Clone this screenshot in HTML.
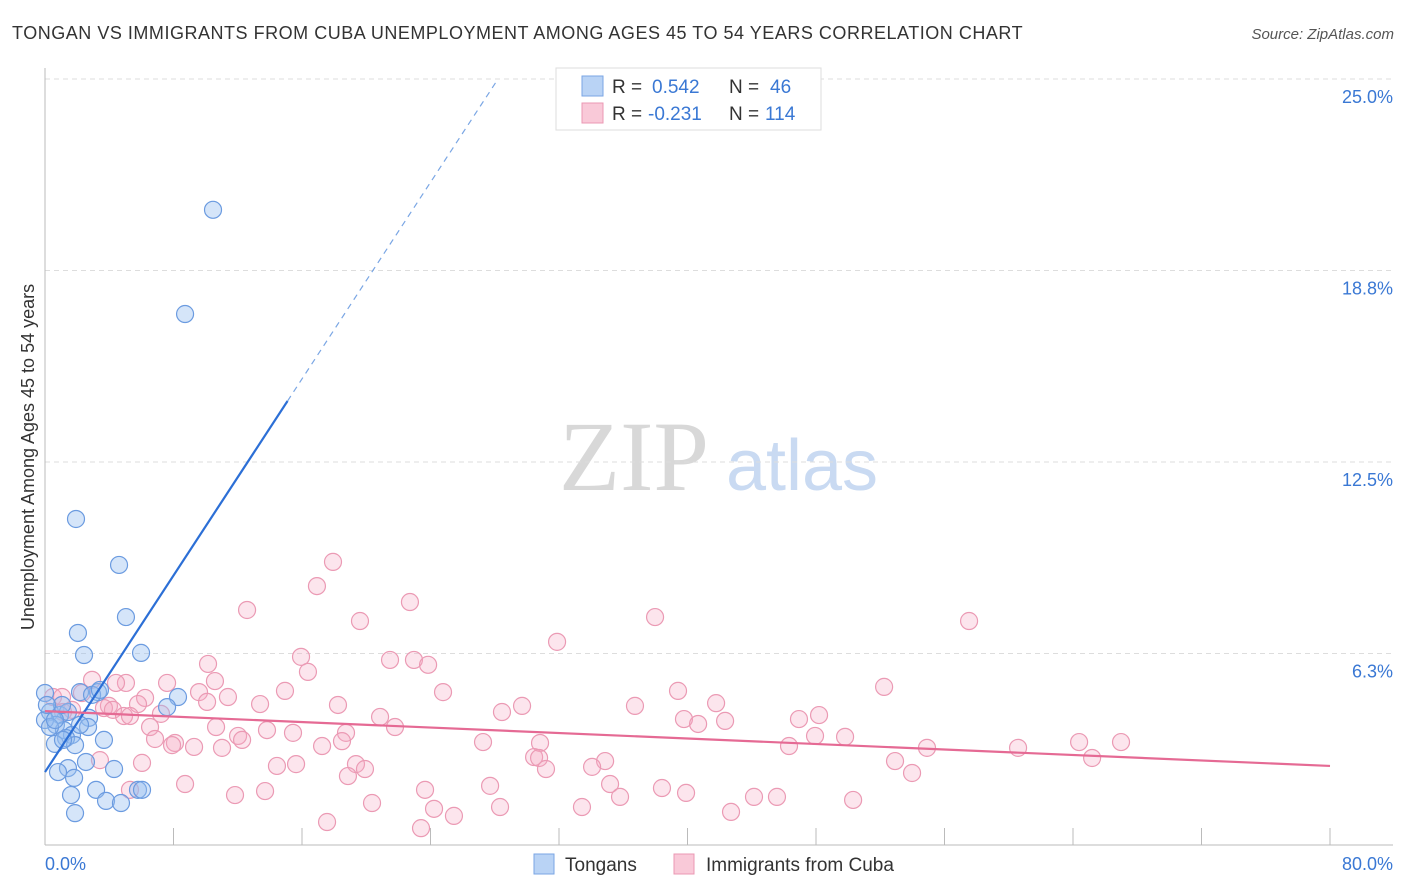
<!DOCTYPE html>
<html><head><meta charset="utf-8">
<style>
body{margin:0;background:#fff;font-family:"Liberation Sans",sans-serif;}
#wrap{position:relative;width:1406px;height:892px;overflow:hidden;}
</style></head>
<body>
<div id="wrap">
<svg id="svg" width="1406" height="892" xmlns="http://www.w3.org/2000/svg">
<text x="12" y="39" font-size="18" fill="#333" letter-spacing="0.52" font-family="Liberation Sans">TONGAN VS IMMIGRANTS FROM CUBA UNEMPLOYMENT AMONG AGES 45 TO 54 YEARS CORRELATION CHART</text>
<text x="1394" y="39" font-size="15" fill="#555" font-style="italic" text-anchor="end">Source: ZipAtlas.com</text>
<text x="634" y="490" font-size="100" fill="#d8d8d8" font-family="Liberation Serif" text-anchor="middle">ZIP</text>
<text x="802" y="490" font-size="72" fill="#c9daf2" text-anchor="middle">atlas</text>
<g id="grid"></g><g id="axes"></g><g id="pink"></g><g id="blue"></g><g id="lines"></g>
<text transform="translate(34,457) rotate(-90)" font-size="18" fill="#333" text-anchor="middle">Unemployment Among Ages 45 to 54 years</text>
<text x="45" y="870" font-size="18" fill="#3a78d4">0.0%</text>
<text x="1393" y="870" font-size="18" fill="#3a78d4" text-anchor="end">80.0%</text>
<g>
<rect x="556" y="68" width="265" height="62" fill="#fff" stroke="#ddd"/>
<rect x="582" y="76" width="21" height="20" fill="#b9d3f5" stroke="#7aa6e4"/>
<rect x="582" y="103" width="21" height="20" fill="#f9c9d8" stroke="#eb98b3"/>
<text x="612" y="93" font-size="19" fill="#333">R = </text><text x="652" y="93" font-size="19" fill="#3a78d4">0.542</text>
<text x="729" y="93" font-size="19" fill="#333">N = </text><text x="770" y="93" font-size="19" fill="#3a78d4">46</text>
<text x="612" y="120" font-size="19" fill="#333">R = </text><text x="648" y="120" font-size="19" fill="#3a78d4">-0.231</text>
<text x="729" y="120" font-size="19" fill="#333">N = </text><text x="765" y="120" font-size="19" fill="#3a78d4">114</text>
</g>
<g>
<rect x="534" y="854" width="20" height="20" fill="#b9d3f5" stroke="#7aa6e4"/>
<text x="565" y="871" font-size="19" fill="#333">Tongans</text>
<rect x="674" y="854" width="20" height="20" fill="#f9c9d8" stroke="#eb98b3"/>
<text x="706" y="871" font-size="19" fill="#333">Immigrants from Cuba</text>
</g>
</svg>
</div>
<script>
const yTicks=[25,18.75,12.5,6.25];
const yTickLabels=["25.0%","18.8%","12.5%","6.3%"];
const xTicks=[0,8,16,24,32,40,48,56,64,72,80];
const blueX=[10.46,8.72,1.93,4.61,5.04,2.05,5.98,2.43,3.30,2.18,8.28,7.60,0,0.31,0.93,1.43,2.74,0.68,1.18,1.68,1.31,3.67,0.62,1.87,2.68,1.12,2.55,1.43,0.81,4.30,3.18,1.81,1.62,5.79,6.04,3.80,4.73,1.87,0,0.31,0.62,1.06,0.12,2.93,3.42,2.18];
const blueY=[20.73,17.33,10.64,9.14,7.44,6.92,6.27,6.20,4.99,4.99,4.83,4.50,4.96,4.34,4.24,4.34,4.15,3.92,3.75,3.59,3.49,3.43,3.30,3.26,3.85,3.43,2.71,2.51,2.38,2.48,1.80,2.19,1.63,1.80,1.80,1.44,1.37,1.04,4.08,3.85,4.08,4.57,4.57,4.90,5.06,3.92];
const pinkX=[17.93,16.93,22.72,12.58,19.61,37.98,57.53,31.88,10.15,15.94,21.48,22.97,23.85,16.37,7.60,10.58,2.93,5.04,4.42,52.24,39.41,24.78,9.59,14.94,2.30,0.50,1.06,6.23,11.39,10.09,41.78,36.73,18.24,29.70,13.39,3.98,5.79,1.68,1.12,3.67,4.23,7.22,28.45,39.78,48.19,46.94,20.86,42.34,4.92,5.29,40.66,21.79,6.54,10.65,13.82,15.44,18.74,12.02,12.27,6.85,8.09,7.91,9.28,11.02,17.25,18.49,27.27,30.82,47.94,49.81,46.32,54.91,60.58,64.38,66.99,65.19,19.36,19.92,15.63,14.44,34.87,30.45,30.76,31.19,34.06,6.04,52.92,53.98,18.86,8.72,27.71,23.66,35.18,38.41,39.91,13.70,11.83,35.80,44.14,45.57,50.31,20.36,28.33,33.43,24.22,25.46,42.71,17.56,23.41,5.29,3.42];
const pinkY=[9.24,8.45,7.93,7.67,7.31,7.44,7.31,6.63,5.91,6.14,6.04,6.04,5.88,5.65,5.29,5.35,5.39,5.29,5.29,5.16,5.03,4.99,4.99,5.03,4.96,4.83,4.83,4.80,4.83,4.67,4.63,4.54,4.57,4.54,4.60,4.54,4.60,4.41,4.34,4.47,4.41,4.28,4.34,4.11,4.24,4.11,4.18,4.05,4.21,4.21,3.95,3.85,3.85,3.85,3.75,3.66,3.66,3.56,3.43,3.46,3.33,3.26,3.20,3.17,3.23,3.39,3.36,3.33,3.56,3.53,3.23,3.17,3.17,3.36,3.36,2.84,2.64,2.48,2.64,2.58,2.74,2.87,2.84,2.48,2.55,2.68,2.74,2.35,2.25,1.99,1.93,1.80,1.99,1.86,1.70,1.76,1.63,1.57,1.57,1.57,1.47,1.37,1.24,1.24,1.18,0.95,1.08,0.75,0.55,1.80,2.77];
const blueTrend=[2.38,0.802]; // intercept, slope
const blueSolidEnd=15.1;
const pinkTrend=[4.37,2.58]; // y at 0%, y at 80%

const NS="http://www.w3.org/2000/svg";
const X0=45,X1=1330,Y0=845,YTOP=79;
const sx=v=>X0+(v/80)*(X1-X0);
const sy=v=>Y0-(v/25)*(Y0-YTOP);
function mk(tag,attrs,parent){const e=document.createElementNS(NS,tag);for(const k in attrs)e.setAttribute(k,attrs[k]);document.getElementById(parent).appendChild(e);return e;}

yTicks.forEach((t,i)=>{
  const l=mk('line',{x1:X0,x2:1393,y1:sy(t),y2:sy(t),stroke:'#ddd','stroke-dasharray':'5,4'},'grid');
  
  
  const tx=mk('text',{x:1393,y:sy(t)+24,'font-size':18,fill:'#3a78d4','text-anchor':'end'},'grid');
  tx.textContent=yTickLabels[i];
  
  
});
const ax=mk('line',{x1:X0,x2:X0,y1:68,y2:Y0,stroke:'#bbb'},'axes');


const bx=mk('line',{x1:X0,x2:1393,y1:Y0,y2:Y0,stroke:'#bbb'},'axes');


xTicks.forEach(t=>{
  const l=mk('line',{x1:sx(t),x2:sx(t),y1:828,y2:Y0,stroke:'#bbb'},'axes');
  
  
});
pinkX.forEach((v,i)=>{
  const c=mk('circle',{cx:sx(v),cy:sy(pinkY[i]),r:8.5,fill:'rgba(244,170,195,0.3)',stroke:'#eb9ab4','stroke-width':1.2},'pink');
  
  
});
blueX.forEach((v,i)=>{
  const c=mk('circle',{cx:sx(v),cy:sy(blueY[i]),r:8.5,fill:'rgba(150,190,240,0.4)',stroke:'#6b9be0','stroke-width':1.2},'blue');
  
  
});
const bEnd=(25-blueTrend[0])/blueTrend[1];
const l1=mk('line',{x1:sx(0),y1:sy(blueTrend[0]),x2:sx(blueSolidEnd),y2:sy(blueTrend[0]+blueTrend[1]*blueSolidEnd),stroke:'#2c6fd6','stroke-width':2.2},'lines');


const l2=mk('line',{x1:sx(blueSolidEnd),y1:sy(blueTrend[0]+blueTrend[1]*blueSolidEnd),x2:sx(bEnd),y2:sy(25),stroke:'#7aa6e4','stroke-width':1.2,'stroke-dasharray':'6,5'},'lines');


const l3=mk('line',{x1:sx(0),y1:sy(pinkTrend[0]),x2:sx(80),y2:sy(pinkTrend[1]),stroke:'#e56a94','stroke-width':2.2},'lines');


</script>
</body></html>
